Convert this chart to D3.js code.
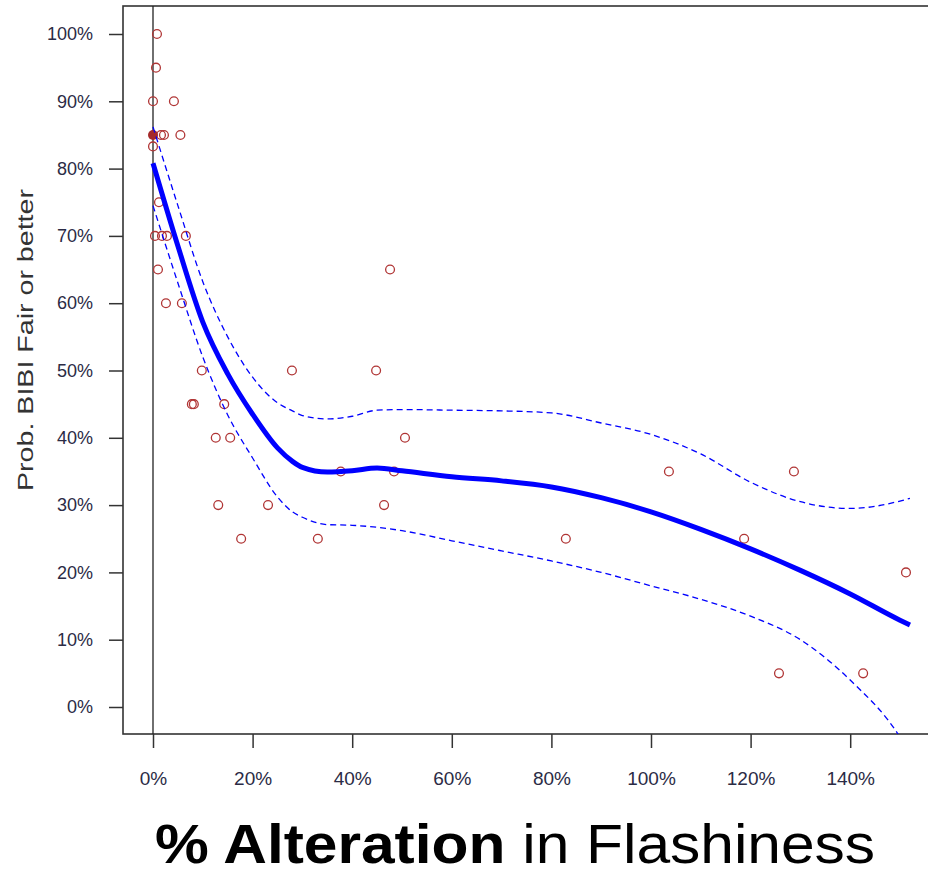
<!DOCTYPE html>
<html>
<head>
<meta charset="utf-8">
<script src="https://cdn.jsdelivr.net/npm/d3@7"></script>
<style>
  body { margin: 0; background: #fff; }
  svg { display: block; font-family: "Liberation Sans", Arial, sans-serif; }
</style>
</head>
<body>
<div id="chart"></div>
<script>
// observed points: % alteration in flashiness vs prob. BIBI fair or better
var pointX = [0.008, 0.006, 0.0, 0.042, 0.016, 0.022, 0.055, 0.0, 0.012, 0.004, 0.018, 0.028, 0.066,
  0.01, 0.026, 0.058, 0.098, 0.279, 0.448, 0.078, 0.082, 0.143, 0.126, 0.155, 0.506, 0.377, 0.484,
  1.036, 1.287, 0.131, 0.231, 0.464, 0.177, 0.331, 0.829, 1.187, 1.512, 1.257, 1.426, 0.476];
var pointY = [1.00, 0.95, 0.90, 0.90, 0.85, 0.85, 0.85, 0.833, 0.75, 0.70, 0.70, 0.70, 0.70,
  0.65, 0.60, 0.60, 0.50, 0.50, 0.50, 0.45, 0.45, 0.45, 0.40, 0.40, 0.40, 0.35, 0.35,
  0.35, 0.35, 0.30, 0.30, 0.30, 0.25, 0.25, 0.25, 0.25, 0.20, 0.05, 0.05, 0.65];
var filledX = [0.0];
var filledY = [0.85];

// smoothed fit and confidence band
var fitX = [0, 0.05, 0.1, 0.15, 0.2, 0.25, 0.28, 0.3, 0.35, 0.4, 0.45, 0.5, 0.6, 0.7, 0.8, 0.9, 1.0, 1.1, 1.2, 1.3, 1.4, 1.5, 1.52];
var fitMid = [0.808, 0.685, 0.572, 0.495, 0.435, 0.385, 0.365, 0.356, 0.349, 0.351, 0.355, 0.351, 0.342, 0.336, 0.327, 0.311, 0.29, 0.264, 0.235, 0.203, 0.168, 0.129, 0.122];
var fitUpper = [0.862, 0.745, 0.632, 0.55, 0.49, 0.452, 0.44, 0.433, 0.428, 0.432, 0.441, 0.442, 0.441, 0.44, 0.437, 0.422, 0.405, 0.376, 0.334, 0.305, 0.295, 0.306, 0.31];
var fitLower = [0.745, 0.63, 0.52, 0.434, 0.37, 0.312, 0.29, 0.282, 0.271, 0.27, 0.267, 0.262, 0.247, 0.232, 0.217, 0.2, 0.18, 0.16, 0.135, 0.1, 0.04, -0.045, -0.07];

var xTicks = [0, 0.2, 0.4, 0.6, 0.8, 1.0, 1.2, 1.4];
var yTicks = [0, 0.1, 0.2, 0.3, 0.4, 0.5, 0.6, 0.7, 0.8, 0.9, 1.0];

function init() {
  var w = 928;
  var h = 877;
  var boxLeft = 123, boxTop = 6, boxBottom = 734, boxRight = 940;

  var xScale = d3.scaleLinear().domain([0, 1]).range([153, 651]);
  var yScale = d3.scaleLinear().domain([0, 1]).range([707, 34]);
  var pct = d3.format(".0%");

  var svg = d3.select("#chart").append("svg")
    .attr("width", w)
    .attr("height", h);

  svg.append("clipPath").attr("id", "plotclip")
    .append("rect")
    .attr("x", boxLeft).attr("y", boxTop)
    .attr("width", boxRight - boxLeft).attr("height", boxBottom - boxTop);

  // box
  svg.append("rect")
    .attr("x", boxLeft).attr("y", boxTop)
    .attr("width", boxRight - boxLeft).attr("height", boxBottom - boxTop)
    .attr("fill", "none")
    .attr("stroke", "#333")
    .attr("stroke-width", 1.6);

  // axes
  var xAxis = d3.axisBottom(xScale)
    .tickValues(xTicks)
    .tickSize(14)
    .tickPadding(24)
    .tickFormat(pct);
  var gx = svg.append("g")
    .attr("transform", "translate(0," + boxBottom + ")")
    .call(xAxis);
  gx.select(".domain").remove();
  gx.selectAll(".tick line").attr("stroke", "#333").attr("stroke-width", 1.5);
  gx.selectAll(".tick text")
    .attr("font-size", 19)
    .attr("fill", "#2b2b45")
    .attr("font-family", "Liberation Sans, Arial, sans-serif");

  var yAxis = d3.axisLeft(yScale)
    .tickValues(yTicks)
    .tickSize(14)
    .tickPadding(16)
    .tickFormat(pct);
  var gy = svg.append("g")
    .attr("transform", "translate(" + boxLeft + ",0)")
    .call(yAxis);
  gy.select(".domain").remove();
  gy.selectAll(".tick line").attr("stroke", "#333").attr("stroke-width", 1.5);
  gy.selectAll(".tick text")
    .attr("font-size", 18)
    .attr("fill", "#2b2b45")
    .attr("font-family", "Liberation Sans, Arial, sans-serif");

  var plot = svg.append("g").attr("clip-path", "url(#plotclip)");

  // vertical reference line at 0
  plot.append("line")
    .attr("x1", xScale(0)).attr("x2", xScale(0))
    .attr("y1", boxTop).attr("y2", boxBottom)
    .attr("stroke", "#222")
    .attr("stroke-width", 1.3);

  var points = pointX.map(function(d, i) { return [d, pointY[i]]; });
  plot.selectAll("circle.pt")
    .data(points)
    .enter()
    .append("circle")
    .attr("class", "pt")
    .attr("cx", function(d) { return xScale(d[0]); })
    .attr("cy", function(d) { return yScale(d[1]); })
    .attr("r", 4.4)
    .attr("fill", "none")
    .attr("stroke", "#b03535")
    .attr("stroke-width", 1.3);

  var filled = filledX.map(function(d, i) { return [d, filledY[i]]; });
  plot.selectAll("circle.fill")
    .data(filled)
    .enter()
    .append("circle")
    .attr("class", "fill")
    .attr("cx", function(d) { return xScale(d[0]); })
    .attr("cy", function(d) { return yScale(d[1]); })
    .attr("r", 5)
    .attr("fill", "#a52a2a");

  function lineFor(vals) {
    return d3.line()
      .x(function(d, i) { return xScale(fitX[i]); })
      .y(function(d) { return yScale(d); })
      .curve(d3.curveMonotoneX)(vals);
  }

  plot.append("path")
    .attr("d", lineFor(fitUpper))
    .attr("fill", "none")
    .attr("stroke", "#0000ff")
    .attr("stroke-width", 1.3)
    .attr("stroke-dasharray", "6,4");
  plot.append("path")
    .attr("d", lineFor(fitLower))
    .attr("fill", "none")
    .attr("stroke", "#0000ff")
    .attr("stroke-width", 1.3)
    .attr("stroke-dasharray", "6,4");
  plot.append("path")
    .attr("d", lineFor(fitMid))
    .attr("fill", "none")
    .attr("stroke", "#0000ff")
    .attr("stroke-width", 5);

  // y label
  svg.append("text")
    .attr("transform", "translate(33,340) rotate(-90)")
    .attr("text-anchor", "middle")
    .attr("font-size", 22)
    .attr("fill", "#333")
    .attr("textLength", 302)
    .attr("lengthAdjust", "spacingAndGlyphs")
    .text("Prob. BIBI  Fair or better");

  // title, stretched a little wider like the reference
  var title = svg.append("text")
    .attr("transform", "translate(515,863) scale(1.08,1)")
    .attr("text-anchor", "middle")
    .attr("font-size", 56)
    .attr("fill", "#000");
  title.append("tspan").attr("font-weight", "bold").text("% Alteration");
  title.append("tspan").text(" in Flashiness");
}

window.onload = init;
</script>
</body>
</html>
